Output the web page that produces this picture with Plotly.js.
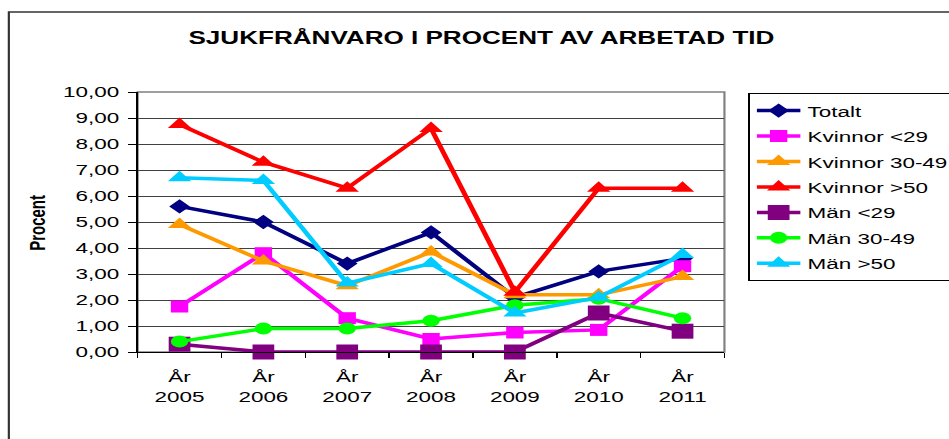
<!DOCTYPE html>
<html>
<head>
<meta charset="utf-8">
<script src="https://cdn.plot.ly/plotly-3.0.1.min.js"></script>
<style>
  html, body { margin: 0; padding: 0; background: #fff; overflow: hidden; }
  #wrap { width: 949px; height: 439px; overflow: hidden; position: relative; }
  #chart { width: 655px; height: 439px; transform: scaleX(1.4489); transform-origin: 0 0; }
</style>
</head>
<body>
<div id="wrap"><div id="chart"></div></div>
<script>
// ---- data ----
const years = ['2005', '2006', '2007', '2008', '2009', '2010', '2011'];
const categories = years.map(y => 'År<br>' + y);

const totalt       = [5.6, 5.0, 3.4, 4.6, 2.1, 3.1, 3.6];
const kvinnorU29   = [1.75, 3.8, 1.3, 0.5, 0.75, 0.85, 3.3];
const kvinnor3049  = [4.9, 3.5, 2.55, 3.85, 2.2, 2.2, 2.9];
const kvinnorO50   = [8.75, 7.3, 6.3, 8.6, 2.3, 6.3, 6.3];
const manU29       = [0.3, 0.0, 0.0, 0.0, 0.0, 1.5, 0.8];
const man3049      = [0.4, 0.9, 0.9, 1.2, 1.8, 2.05, 1.3];
const manO50       = [6.7, 6.6, 2.65, 3.4, 1.5, 2.1, 3.75];

const seriesNames = ['Totalt', 'Kvinnor <29', 'Kvinnor 30-49', 'Kvinnor >50', 'Män <29', 'Män 30-49', 'Män >50'];
const seriesData  = [totalt, kvinnorU29, kvinnor3049, kvinnorO50, manU29, man3049, manO50];

// ---- styles ----
const styles = [
  {color: '#000080', symbol: 'diamond',     size: 11},
  {color: '#FF00FF', symbol: 'square',      size: 12},
  {color: '#FF9900', symbol: 'triangle-up', size: 14},
  {color: '#FF0000', symbol: 'triangle-up', size: 14},
  {color: '#800080', symbol: 'square',      size: 15},
  {color: '#00FF00', symbol: 'circle',      size: 12},
  {color: '#00CCFF', symbol: 'triangle-up', size: 14}
];

const traces = seriesNames.map((name, i) => ({
  type: 'scatter',
  mode: 'lines+markers',
  name: name,
  legendgroup: 'g' + i,
  x: categories,
  y: seriesData[i],
  cliponaxis: false,
  line: {color: styles[i].color, width: 3.5},
  marker: {color: styles[i].color, symbol: styles[i].symbol, size: styles[i].size, line: {width: 0}}
}));

const FONT = '"Liberation Sans", Arial, sans-serif';

const layout = {
  width: 655,
  height: 439,
  margin: {l: 94.5, r: 155, t: 92, b: 87, autoexpand: false},
  paper_bgcolor: '#fff',
  plot_bgcolor: '#fff',
  separators: ',.',
  font: {family: FONT, color: '#000', size: 15},
  showlegend: true,
  title: {
    text: 'SJUKFRÅNVARO I PROCENT AV ARBETAD TID',
    font: {family: FONT, size: 18, weight: 'bold', color: '#000'},
    xref: 'container', yref: 'container',
    x: 0.5073, xanchor: 'center',
    y: 0.9134, yanchor: 'middle'
  },
  xaxis: {
    type: 'category',
    categoryorder: 'array',
    categoryarray: categories,
    range: [-0.5, 6.5],
    showgrid: false,
    zeroline: false,
    showline: true,
    linecolor: '#000',
    linewidth: 1,
    ticks: 'outside',
    tickson: 'boundaries',
    ticklen: 5,
    tickcolor: '#000',
    ticklabelstandoff: 10,
    tickfont: {family: FONT, size: 15.5, color: '#000'},
    automargin: false
  },
  yaxis: {
    range: [0, 10],
    dtick: 1,
    tick0: 0,
    tickformat: '.2f',
    ticksuffix: '\u2009',
    showgrid: true,
    gridcolor: '#404040',
    gridwidth: 1,
    zeroline: false,
    showline: true,
    linecolor: '#000',
    linewidth: 1,
    ticks: 'outside',
    ticklen: 5.5,
    tickcolor: '#000',
    tickfont: {family: FONT, size: 15.5, color: '#000'},
    automargin: false
  },
  legend: {
    x: 1.0405, xanchor: 'left',
    y: 0.996, yanchor: 'top',
    bordercolor: '#000',
    borderwidth: 1,
    bgcolor: '#fff',
    tracegroupgap: 2.3,
    font: {family: FONT, size: 15.5, color: '#000'},
    traceorder: 'grouped'
  },
  shapes: [
    // plot-area border (grey top and right)
    {type: 'rect', xref: 'paper', yref: 'paper', x0: 0, x1: 1, y0: 0, y1: 1,
     line: {color: '#808080', width: 1.5}, layer: 'between'},
    // outer chart frame (extends past the picture at right and bottom)
    {type: 'rect', xref: 'paper', yref: 'paper', x0: -0.2195, x1: 1.40, y0: -0.36, y1: 1.3077,
     line: {color: '#333', width: 1.5}, layer: 'below'}
  ],
  annotations: [
    {text: 'Procent', xref: 'paper', yref: 'paper', x: -0.1734, y: 0.496,
     xanchor: 'center', yanchor: 'middle', textangle: -90, showarrow: false,
     font: {family: FONT, size: 15, weight: 'bold', color: '#000'}}
  ]
};

Plotly.newPlot('chart', traces, layout, {displayModeBar: false, staticPlot: true});
</script>
</body>
</html>
